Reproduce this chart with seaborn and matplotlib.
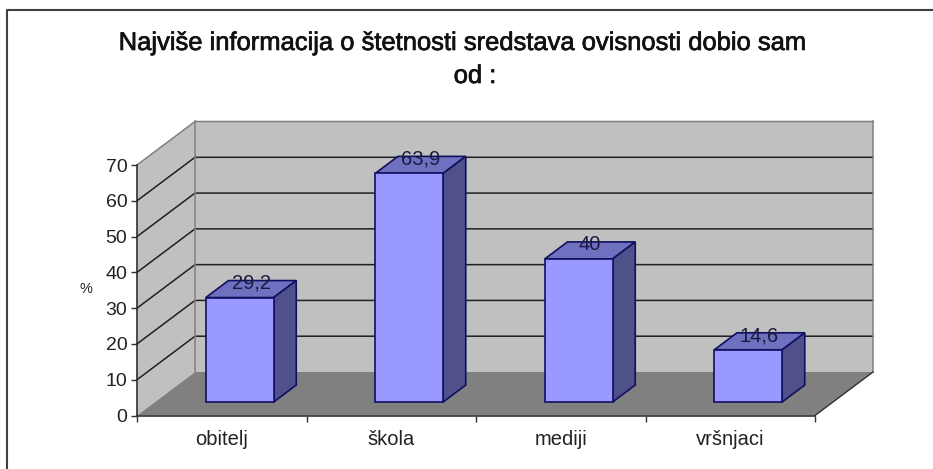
import numpy as np
import pandas as pd
import matplotlib
matplotlib.use("Agg")
import matplotlib.pyplot as plt
import matplotlib.patheffects as pe
from matplotlib.lines import Line2D
import seaborn as sns

kategorije = ["obitelj", "škola", "mediji", "vršnjaci"]
postoci = [29.2, 63.9, 40, 14.6]
oznake = ["29,2", "63,9", "40", "14,6"]
y_ticks = [0, 10, 20, 30, 40, 50, 60, 70]
naslov_1 = "Najviše informacija o štetnosti sredstava ovisnosti dobio sam"
naslov_2 = "od :"

W, H = 933, 469
plt.rcParams["font.family"] = ["Liberation Sans", "DejaVu Sans"]

fig = plt.figure(figsize=(W / 100, H / 100), dpi=100)
# front plane of the fake 3d box, in pixels
left, right, y0, y70 = 137, 815, 415.5, 165
ax = fig.add_axes([left / W, 1 - y0 / H, (right - left) / W, (y0 - y70) / H])

df = pd.DataFrame({"kat": kategorije, "pct": postoci})
sns.barplot(data=df, x="kat", y="pct", width=0.4, color="#9999ff", saturation=1,
            edgecolor="#101060", linewidth=1.2, ax=ax, zorder=5)
ax.set_xlim(-0.5, 3.5)
ax.set_ylim(0, 70)

# depth: 1.0 = from front plane to back wall
DX = 58 / ((right - left) / 4)
DY = 43.5 / ((y0 - y70) / 70)


def proj(x, v, d):
    return x + d * DX, v + d * DY


def face(pts, **kw):
    xs, ys = zip(*[proj(*p) for p in pts])
    ax.fill(xs, ys, clip_on=False, **kw)


# walls and floor
face([(-0.5, 0, 0), (-0.5, 0, 1), (-0.5, 70, 1), (-0.5, 70, 0)], color="#c0c0c0", lw=0, zorder=1)
face([(-0.5, 0, 1), (3.5, 0, 1), (3.5, 70, 1), (-0.5, 70, 1)], color="#c0c0c0", lw=0, zorder=1)
face([(-0.5, 0, 0), (3.5, 0, 0), (3.5, 0, 1), (-0.5, 0, 1)], color="#808080", lw=0, zorder=1)

for v in y_ticks[1:]:
    xs, ys = zip(proj(-0.5, v, 0), proj(-0.5, v, 1), proj(3.5, v, 1))
    lc = "#808080" if v == 70 else "#202020"
    ax.plot(xs, ys, color=lc, lw=1.1, clip_on=False, zorder=2)
xs, ys = zip(proj(-0.5, 0, 1), proj(-0.5, 70, 1))
ax.plot(xs, ys, color="#808080", lw=1.1, clip_on=False, zorder=2)
xs, ys = zip(proj(3.5, 70, 1), proj(3.5, 0, 1))
ax.plot(xs, ys, color="#808080", lw=1.1, clip_on=False, zorder=2)
xs, ys = zip(proj(3.5, 0, 1), proj(3.5, 0, 0))
ax.plot(xs, ys, color="#303030", lw=1.0, clip_on=False, zorder=2)

# bars sit between these depths
d1, d2 = 0.31, 0.70
for p, val, txt in zip(ax.patches, postoci, oznake):
    x0, x1 = p.get_x(), p.get_x() + p.get_width()
    px, py = proj(x0, 0, d1)
    p.set_xy((px, py))
    p.set_clip_on(False)
    face([(x0, val, d1), (x1, val, d1), (x1, val, d2), (x0, val, d2)],
         facecolor="#7070c0", edgecolor="#101060", lw=1.2, zorder=4)
    face([(x1, 0, d1), (x1, val, d1), (x1, val, d2), (x1, 0, d2)],
         facecolor="#50508a", edgecolor="#101060", lw=1.2, zorder=4)
    tx, ty = proj((x0 + x1) / 2, val, (d1 + d2) / 2)
    ax.annotate(txt, (tx, ty), xytext=(0, 4), textcoords="offset points",
                ha="center", va="center", fontsize=14.5, color="#1a1a40", zorder=6,
                annotation_clip=False)

sns.despine(ax=ax, top=True, right=True)
for s in ["left", "bottom"]:
    ax.spines[s].set_color("#303030")
    ax.spines[s].set_linewidth(1.2)
    ax.spines[s].set_zorder(3)
ax.set_yticks(y_ticks)
ax.set_xticks(range(len(kategorije)), kategorije)
ax.set_xticks([-0.5, 0.5, 1.5, 2.5, 3.5], minor=True)
ax.tick_params(axis="x", which="major", length=0, pad=10.5, labelsize=14.5, labelcolor="#222222")
ax.tick_params(axis="x", which="minor", length=4, width=1, color="#303030", direction="out")
ax.tick_params(axis="y", length=4, width=1, color="#303030", pad=3, labelsize=14, labelcolor="#222222")
ax.set_xlabel("")
ax.set_ylabel("")
ax.patch.set_alpha(0)

fig.text(86 / W, 1 - 289 / H, "%", fontsize=10.5, ha="center", va="center", color="#222222")
debljina = [pe.withStroke(linewidth=0.5, foreground="#111111")]
fig.text(462 / W, 1 - 43 / H, naslov_1, fontsize=18.4, ha="center", va="center",
         color="#111111", path_effects=debljina)
fig.text(475 / W, 1 - 76 / H, naslov_2, fontsize=18.4, ha="center", va="center",
         color="#111111", path_effects=debljina)

# only the top and left edge of the frame are inside the picture
fig.add_artist(Line2D([7 / W, 7 / W, 1], [0, 1 - 10 / H, 1 - 10 / H], transform=fig.transFigure,
                      color="#404040", lw=1.5))

fig.savefig("out.png", dpi=100)
